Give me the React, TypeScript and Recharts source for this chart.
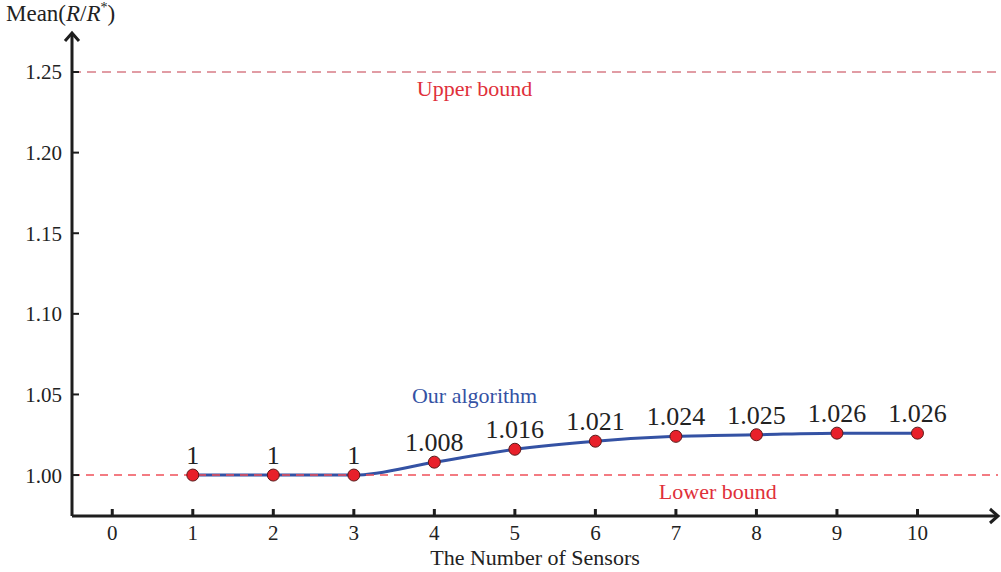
import React from 'react';
import { LineChart, Line, XAxis, YAxis, ReferenceLine, ReferenceDot, LabelList } from 'recharts';

// number of sensors and mean R/R* per count
const sensors = [1, 2, 3, 4, 5, 6, 7, 8, 9, 10];
const meanRatio = [1, 1, 1, 1.008, 1.016, 1.021, 1.024, 1.025, 1.026, 1.026];

const xTicks = [0, 1, 2, 3, 4, 5, 6, 7, 8, 9, 10];
const yTicks = [1.0, 1.05, 1.1, 1.15, 1.2, 1.25];

const upperBound = 1.25;
const lowerBound = 1.0;

// annotation anchors (data space)
const upperLabelAt = { x: 4.5, y: 1.2402 };
const lowerLabelAt = { x: 7.52, y: 0.9902 };
const algoLabelAt = { x: 4.5, y: 1.0496 };

const data = sensors.map((s, i) => ({ x: s, y: meanRatio[i] }));

const FONT = '"Liberation Serif", "DejaVu Serif", serif';
const AXIS = '#1e1e1e';

function ValueLabel(props: any) {
  const { x, y, value } = props;
  return (
    <text x={x} y={y - 11} textAnchor="middle" fill="#222" fontSize={26} fontFamily={FONT}>
      {String(value)}
    </text>
  );
}

export default function App() {
  return (
    <div style={{ position: 'absolute', left: 0, top: 0, width: 1001, height: 572, background: '#fff', fontFamily: FONT }}>
      <svg width="0" height="0" style={{ position: 'absolute' }}>
        <defs>
          <marker id="axisArrow" markerUnits="userSpaceOnUse" markerWidth="24" markerHeight="24"
            viewBox="-12 -12 24 24" refX="0" refY="0" orient="auto-start-reverse">
            <path d="M-8,-7 L0,0 L-8,7" fill="none" stroke={AXIS} strokeWidth="3" />
          </marker>
        </defs>
      </svg>
      <div style={{ position: 'absolute', left: 6, top: 0, fontSize: 23, color: '#222', whiteSpace: 'nowrap' }}>
        Mean(<i>R</i>/<i>R</i><sup style={{ fontSize: 14 }}>*</sup>)
      </div>
      <LineChart width={1001} height={572} data={data}
        margin={{ top: 33, right: 3, left: 0, bottom: 20 }}>
        <XAxis type="number" dataKey="x" domain={[-0.5, 11]} ticks={xTicks} allowDataOverflow
          height={36} tickSize={-7} tickMargin={16}
          axisLine={{ stroke: AXIS, strokeWidth: 3, markerEnd: 'url(#axisArrow)' }}
          tickLine={{ stroke: AXIS, strokeWidth: 3 }}
          tick={{ fill: '#222', fontSize: 21, fontFamily: FONT }}
          label={{ value: 'The Number of Sensors', position: 'bottom', offset: -3, fill: '#222', fontSize: 22, fontFamily: FONT }} />
        <YAxis type="number" domain={[0.9746, 1.2742]} ticks={yTicks} allowDataOverflow
          width={72} tickSize={-7} tickMargin={17}
          tickFormatter={(v: number) => v.toFixed(2)}
          axisLine={{ stroke: AXIS, strokeWidth: 3, markerStart: 'url(#axisArrow)' }}
          tickLine={{ stroke: AXIS, strokeWidth: 2 }}
          tick={{ fill: '#222', fontSize: 21, fontFamily: FONT }} />
        <Line type="monotone" dataKey="y" stroke="#3452a4" strokeWidth={3} isAnimationActive={false}
          dot={{ r: 6, fill: '#e8202a', stroke: '#5a1a1a', strokeWidth: 1, fillOpacity: 1 }}>
          <LabelList dataKey="y" content={ValueLabel} />
        </Line>
        <ReferenceLine y={upperBound} stroke="#c43b4b" strokeWidth={1.2} strokeDasharray="9 6" />
        <ReferenceLine y={lowerBound} stroke="#f0505a" strokeWidth={1.4} strokeDasharray="8 6" />
        <ReferenceDot x={upperLabelAt.x} y={upperLabelAt.y} r={0} stroke="none" fill="none"
          label={{ value: 'Upper bound', position: 'center', fill: '#e0303a', fontSize: 22, fontFamily: FONT }} />
        <ReferenceDot x={lowerLabelAt.x} y={lowerLabelAt.y} r={0} stroke="none" fill="none"
          label={{ value: 'Lower bound', position: 'center', fill: '#e0303a', fontSize: 22, fontFamily: FONT }} />
        <ReferenceDot x={algoLabelAt.x} y={algoLabelAt.y} r={0} stroke="none" fill="none"
          label={{ value: 'Our algorithm', position: 'center', fill: '#3452a4', fontSize: 22, fontFamily: FONT }} />
      </LineChart>
    </div>
  );
}
